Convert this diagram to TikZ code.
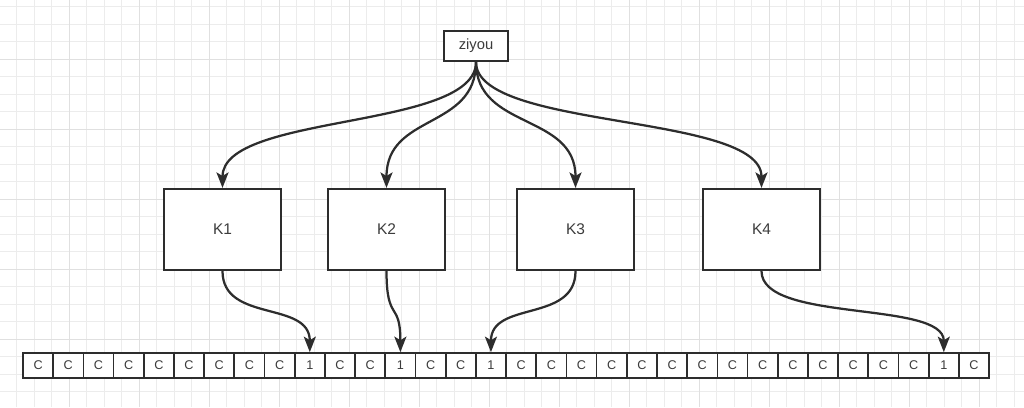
\documentclass[tikz,border=0pt]{standalone}
\usepackage{fontspec}
\setmainfont{Liberation Sans}
\usetikzlibrary{arrows.meta}
\definecolor{linegray}{RGB}{45,45,45}
\definecolor{textgray}{RGB}{60,60,60}
\definecolor{gridminor}{RGB}{236,236,236}
\definecolor{gridmajor}{RGB}{224,224,224}
\tikzstyle{rootbox}=[rectangle,draw=linegray,line width=1.5pt,fill=white,minimum width=1.6cm,minimum height=0.75cm,inner sep=0pt,text=textgray,font=\fontsize{10.5}{12}\selectfont]
\tikzstyle{keybox}=[rectangle,draw=linegray,line width=1.5pt,fill=white,minimum width=2.925cm,minimum height=2.025cm,inner sep=0pt,text=textgray,font=\fontsize{11}{13}\selectfont]
\tikzstyle{arraycell}=[rectangle,draw=linegray,line width=1.2pt,fill=white,minimum width=0.755cm,minimum height=0.625cm,inner sep=0pt,text=textgray,font=\fontsize{9}{11}\selectfont]
\tikzstyle{edge} = [draw=linegray,line width=1.6pt,-{Stealth[length=11pt,width=8.5pt,inset=2.5pt]}]

\begin{document}
\begin{tikzpicture}[x=0.025cm,y=-0.025cm]

    \useasboundingbox (0,0) rectangle (1024,407);

% grid
    \foreach \gx in {0,...,58}
        \draw[gridminor,line width=0.6pt] (-0.8+17.5*\gx,0) -- (-0.8+17.5*\gx,407);
    \foreach \gy in {0,...,22}
        \draw[gridminor,line width=0.6pt] (0,6.7+17.5*\gy) -- (1024,6.7+17.5*\gy);
    \foreach \gx in {0,...,13}
        \draw[gridmajor,line width=0.7pt] (69.2+70*\gx,0) -- (69.2+70*\gx,407);
    \foreach \gy in {0,...,4}
        \draw[gridmajor,line width=0.7pt] (0,59.2+70*\gy) -- (1024,59.2+70*\gy);

%layer 1
    \node[rootbox] (ziyou) at (476,46) {ziyou};

%layer 2
    \foreach \pos/\name in {{(222.5,229.5)/K1},{(386.5,229.5)/K2},{(575.5,229.5)/K3},{(761.5,229.5)/K4}}
        \node[keybox] (\name) at \pos {\name};

%array
    \def\w{30.19}
    \foreach \val [count=\i] in {C,C,C,C,C,C,C,C,C,1,C,C,1,C,C,1,C,C,C,C,C,C,C,C,C,C,C,C,C,C,1,C}
        \node[arraycell] (c\i) at ({23+\w*(\i-0.5)},365.5) {\val};

% Edges
    %layer 1
    \foreach \dest in {K1,K2,K3,K4}
        \path[edge] (ziyou.south) .. controls +(0,68) and +(0,-75) .. (\dest.north);

    %layer 2
    \foreach \source/\dest in {K1/c10,K2/c13,K3/c16,K4/c31}
        \path[edge] (\source.south) .. controls +(0,52) and +(0,-52) .. (\dest.north);

\end{tikzpicture}
\end{document}
